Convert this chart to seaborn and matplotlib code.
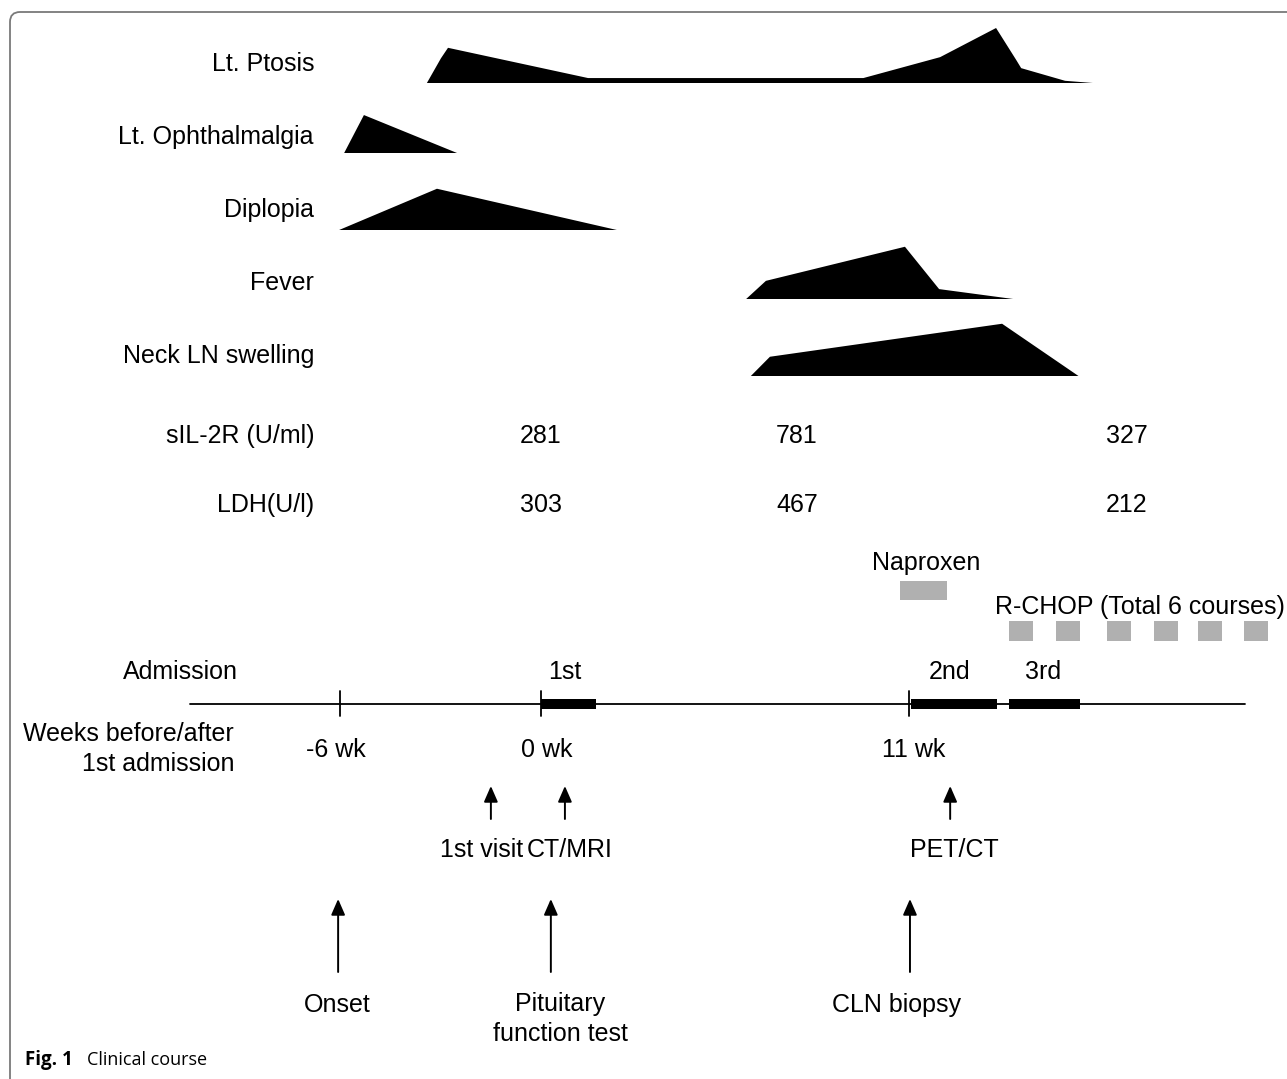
import numpy as np
import pandas as pd
import matplotlib
matplotlib.use('Agg')
import matplotlib.pyplot as plt
import seaborn as sns
from matplotlib.patches import FancyBboxPatch
from matplotlib.transforms import IdentityTransform

# ---------------------------------------------------------------
# data (weeks relative to 1st admission, intensity 0-10)
# ---------------------------------------------------------------
symptoms = ['Lt. Ptosis', 'Lt. Ophthalmalgia', 'Diplopia', 'Fever', 'Neck LN swelling']

ptosis_wk  = [-3.40, -2.98, -2.77, 1.41, 9.63, 11.92, 13.59, 14.19, 14.34, 15.65, 16.48]
ptosis_int = [0, 4.5, 6.4, 0.9, 0.9, 4.7, 10.0, 4.2, 2.7, 0.4, 0]

ophthal_wk  = [-5.87, -5.28, -2.50]
ophthal_int = [0, 6.9, 0]

diplopia_wk  = [-6.02, -3.10, 2.27]
diplopia_int = [0, 7.5, 0]

fever_wk  = [6.13, 6.72, 10.87, 11.89, 14.10]
fever_int = [0, 3.3, 9.5, 1.8, 0]

neck_wk  = [6.27, 6.84, 13.77, 16.05]
neck_int = [0, 3.5, 9.5, 0]

lab_names = ['sIL-2R (U/ml)', 'LDH(U/l)']
lab_wk    = [0.0, 7.65, 17.48]
sil2r     = [281, 781, 327]
ldh       = [303, 467, 212]

naproxen_start, naproxen_end = 10.72, 12.14
rchop_wk = [14.33, 15.74, 17.26, 18.66, 19.98, 21.35]

adm_names = ['1st', '2nd', '3rd']
adm_start = [0.0, 11.05, 13.98]
adm_end   = [1.65, 13.62, 16.10]

week_ticks  = [-6, 0, 11]
week_labels = ['-6 wk', '0 wk', '11 wk']

exam_names = ['1st visit', 'CT/MRI', 'PET/CT']
exam_wk    = [-1.49, 0.72, 12.22]

event_names = ['Onset', 'Pituitary\nfunction test', 'CLN biopsy']
event_wk    = [-6.05, 0.30, 11.02]

# ---------------------------------------------------------------
# layout helpers (pixel layout of the 1287x1079 canvas)
# ---------------------------------------------------------------
X0, PXW = 540.8, 33.5          # pixel of week 0, pixels per week
W, H = 1287, 1079
def px(x):
    return (x - X0) / PXW

row_base = [83, 153, 230, 299, 376]
row_label_y = [64, 137, 210, 283, 356]
lab_y = [436, 505]
UNIT = 5.5                      # px per intensity unit

sns.set_theme(style='white')
plt.rcParams['font.family'] = ['Liberation Sans', 'DejaVu Sans']
plt.rcParams['text.color'] = 'black'

fig = plt.figure(figsize=(W / 100, H / 100), dpi=100)
ax = fig.add_axes([0, 0, 1, 1])
ax.set_xlim(px(0), px(W))
ax.set_ylim(H, 0)
ax.axis('off')

FS = 18
black = '#000000'
gray = '#b0b0b0'
arrow = dict(arrowstyle='-|>,head_length=0.8,head_width=0.35',
             color=black, lw=1.4, shrinkA=0, shrinkB=0)

# symptom profiles
profiles = [(ptosis_wk, ptosis_int), (ophthal_wk, ophthal_int),
            (diplopia_wk, diplopia_int), (fever_wk, fever_int),
            (neck_wk, neck_int)]
for name, (wk, inten), base, ly in zip(symptoms, profiles, row_base, row_label_y):
    yy = [base - v * UNIT for v in inten]
    ax.fill(wk + [wk[-1], wk[0]], yy + [base, base], color=black, lw=0)
    ax.text(px(314), ly, name, ha='right', va='center', fontsize=FS)

# lab values
for name, vals, y in zip(lab_names, [sil2r, ldh], lab_y):
    ax.text(px(314), y, name, ha='right', va='center', fontsize=FS)
    for w, v in zip(lab_wk, vals):
        ax.text(w, y, str(v), ha='center', va='center', fontsize=FS)

# treatments
ax.text(px(926), 563, 'Naproxen', ha='center', va='center', fontsize=FS)
ax.barh(590, naproxen_end - naproxen_start, left=naproxen_start, height=19,
        color=gray, lw=0)
ax.text(px(1140), 607, 'R-CHOP (Total 6 courses)', ha='center', va='center', fontsize=FS)
ax.barh([631] * len(rchop_wk), [0.72] * len(rchop_wk),
        left=[w - 0.36 for w in rchop_wk], height=20, color=gray, lw=0)

# timeline
tl = pd.DataFrame({'wk': [px(190), px(1245)], 'y': [704, 704]})
sns.lineplot(data=tl, x='wk', y='y', ax=ax, color=black, lw=1.3)
for w in week_ticks:
    ax.plot([w, w], [691, 716], color=black, lw=1.3)
ax.barh([704] * 3, [e - s for s, e in zip(adm_start, adm_end)], left=adm_start,
        height=10, color=black, lw=0)
ax.text(px(180), 672, 'Admission', ha='center', va='center', fontsize=FS)
adm_label_x = [565, 950, 1043]
for name, x in zip(adm_names, adm_label_x):
    ax.text(px(x), 672, name, ha='center', va='center', fontsize=FS)

ax.text(px(234), 749, 'Weeks before/after\n1st admission', ha='right', va='center',
        fontsize=FS, linespacing=1.3)
tick_label_x = [336, 547, 914]
for lab, x in zip(week_labels, tick_label_x):
    ax.text(px(x), 750, lab, ha='center', va='center', fontsize=FS)

# examinations (small arrows)
exam_label_x = [482, 570, 954]
for name, w, x in zip(exam_names, exam_wk, exam_label_x):
    ax.annotate('', xy=(w, 786), xytext=(w, 819), arrowprops=arrow)
    ax.text(px(x), 850, name, ha='center', va='center', fontsize=FS)

# events (large arrows)
event_label_x = [337, 560, 896]
event_label_y = [1005, 1019, 1005]
for name, w, x, y in zip(event_names, event_wk, event_label_x, event_label_y):
    ax.annotate('', xy=(w, 899), xytext=(w, 972), arrowprops=arrow)
    ax.text(px(x), y, name, ha='center', va='center', fontsize=FS, linespacing=1.3)

# caption and frame
fig.text(25 / W, 1 - 1060 / H, 'Fig. 1', fontsize=13.5, fontweight='bold',
         family=['Open Sans', 'DejaVu Sans'], va='center', ha='left')
fig.text(87 / W, 1 - 1060 / H, 'Clinical course', fontsize=13,
         family=['Open Sans', 'DejaVu Sans'], va='center', ha='left')
frame = FancyBboxPatch((10, -40), 1320, 1079 - 12 + 40,
                       boxstyle='round,pad=0,rounding_size=10',
                       transform=IdentityTransform(), fill=False,
                       edgecolor='#7a7a7a', lw=1.3)
fig.patches.append(frame)

fig.savefig('out.png', dpi=100)
